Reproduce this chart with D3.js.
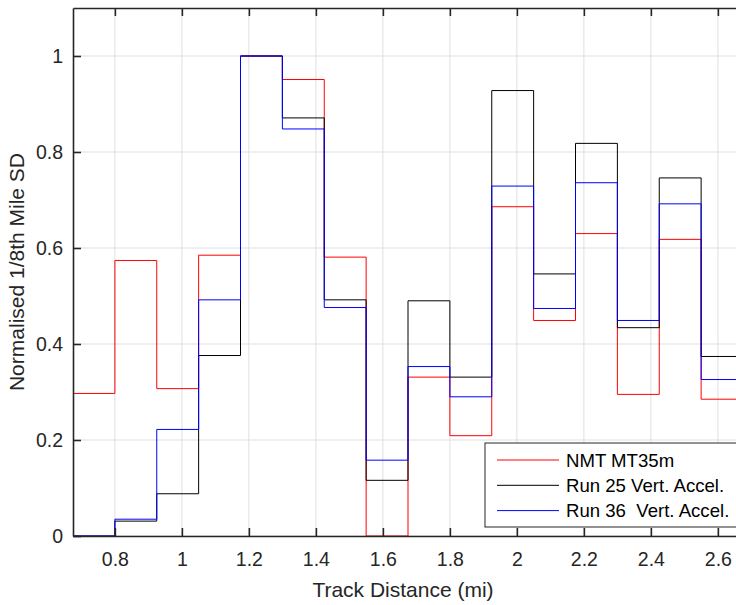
<!DOCTYPE html>
<html>
<head>
<meta charset="utf-8">
<script src="https://cdn.jsdelivr.net/npm/d3@7"></script>
<style>
  body { margin: 0; background: #fff; }
  svg { display: block; font-family: "Liberation Sans", Arial, Helvetica, sans-serif; }
</style>
</head>
<body>
<svg id="chart" width="736" height="605"></svg>
<script>
// bin starts (1/8 mile sections) and the last edge
var binStarts = [0.675, 0.8, 0.925, 1.05, 1.175, 1.3, 1.425, 1.55, 1.675, 1.8, 1.925, 2.05, 2.175, 2.3, 2.425, 2.55];
var lastEdge = 2.675;

var nmt   = [0.297, 0.574, 0.307, 0.585, 1.0, 0.951, 0.581, 0.0, 0.331, 0.209, 0.686, 0.449, 0.630, 0.295, 0.618, 0.285];
var run25 = [0.0, 0.031, 0.088, 0.376, 1.0, 0.871, 0.492, 0.116, 0.490, 0.331, 0.928, 0.546, 0.818, 0.434, 0.746, 0.374];
var run36 = [0.0, 0.035, 0.222, 0.492, 1.0, 0.848, 0.476, 0.158, 0.353, 0.290, 0.729, 0.474, 0.736, 0.449, 0.692, 0.326];

var seriesNames = ["NMT MT35m", "Run 25 Vert. Accel.", "Run 36  Vert. Accel."];
var seriesColors = ["#ff0000", "#000000", "#0000ff"];

var xTicks = [0.8, 1, 1.2, 1.4, 1.6, 1.8, 2, 2.2, 2.4, 2.6];
var yTicks = [0, 0.2, 0.4, 0.6, 0.8, 1];

var svg = d3.select("#chart");
var plotLeft = 73, plotTop = 8, plotBottom = 536;
var plotRight = plotLeft + (lastEdge - binStarts[0]) * 335;

var x = d3.scaleLinear().domain([binStarts[0], lastEdge]).range([plotLeft, plotRight]);
var y = d3.scaleLinear().domain([0, 1.1]).range([plotBottom, plotTop]);

var axisColor = "#262626";
var tickLen = 8;

// grid
svg.append("g").selectAll("line").data(xTicks).enter().append("line")
  .attr("x1", function(d) { return x(d); }).attr("x2", function(d) { return x(d); })
  .attr("y1", plotTop).attr("y2", plotBottom)
  .attr("stroke", "#dfdfdf").attr("stroke-width", 1);
svg.append("g").selectAll("line").data(yTicks).enter().append("line")
  .attr("x1", plotLeft).attr("x2", plotRight)
  .attr("y1", function(d) { return y(d); }).attr("y2", function(d) { return y(d); })
  .attr("stroke", "#dfdfdf").attr("stroke-width", 1);

// stairs
svg.append("clipPath").attr("id", "clip").append("rect")
  .attr("x", plotLeft).attr("y", plotTop)
  .attr("width", plotRight - plotLeft).attr("height", plotBottom - plotTop);

var line = d3.line()
  .x(function(d) { return x(d[0]); })
  .y(function(d) { return y(d[1]); })
  .curve(d3.curveStepAfter);

[nmt, run25, run36].forEach(function(vals, i) {
  var pts = binStarts.map(function(b, j) { return [b, vals[j]]; });
  pts.push([lastEdge, vals[vals.length - 1]]);
  svg.append("path")
    .attr("clip-path", "url(#clip)")
    .attr("d", line(pts))
    .attr("fill", "none")
    .attr("stroke", seriesColors[i])
    .attr("stroke-width", 1);
});

// axes box
var fmt = d3.format("~g");
var xAxis = d3.axisBottom(x).tickValues(xTicks).tickSizeInner(-tickLen).tickSizeOuter(0)
  .tickFormat(fmt).tickPadding(16);
var gx = svg.append("g").attr("transform", "translate(0," + plotBottom + ")").call(xAxis);
var xAxisTop = d3.axisTop(x).tickValues(xTicks).tickSizeInner(-tickLen).tickSizeOuter(0).tickFormat("");
var gxt = svg.append("g").attr("transform", "translate(0," + plotTop + ")").call(xAxisTop);
var yAxis = d3.axisLeft(y).tickValues(yTicks).tickSizeInner(-tickLen).tickSizeOuter(0)
  .tickFormat(fmt).tickPadding(10);
var gy = svg.append("g").attr("transform", "translate(" + plotLeft + ",0)").call(yAxis);

[gx, gxt, gy].forEach(function(g) {
  g.select(".domain").attr("stroke", axisColor).attr("stroke-width", 1.6);
  g.selectAll(".tick line").attr("stroke", axisColor).attr("stroke-width", 1.6);
  g.selectAll(".tick text").attr("fill", axisColor).attr("font-size", 19.5)
    .attr("font-family", "Liberation Sans, Arial, sans-serif");
});

// labels
svg.append("text").attr("x", (plotLeft + plotRight) / 2 - 5).attr("y", 597)
  .attr("text-anchor", "middle").attr("font-size", 21).attr("fill", axisColor)
  .text("Track Distance (mi)");
svg.append("text").attr("transform", "translate(24," + ((plotTop + plotBottom) / 2) + ") rotate(-90)")
  .attr("text-anchor", "middle").attr("font-size", 21).attr("fill", axisColor)
  .text("Normalised 1/8th Mile SD");

// legend
var lg = svg.append("g");
lg.append("rect").attr("x", 485).attr("y", 443).attr("width", 280).attr("height", 84)
  .attr("fill", "#fff").attr("stroke", axisColor).attr("stroke-width", 1);
seriesNames.forEach(function(name, i) {
  var cy = 460 + i * 25.3;
  lg.append("line").attr("x1", 497).attr("x2", 559).attr("y1", cy).attr("y2", cy)
    .attr("stroke", seriesColors[i]).attr("stroke-width", 1);
  lg.append("text").attr("x", 566).attr("y", cy).attr("dy", "0.35em")
    .attr("font-size", 18.6).attr("fill", "#000").style("white-space", "pre")
    .text(name);
});
</script>
</body>
</html>
